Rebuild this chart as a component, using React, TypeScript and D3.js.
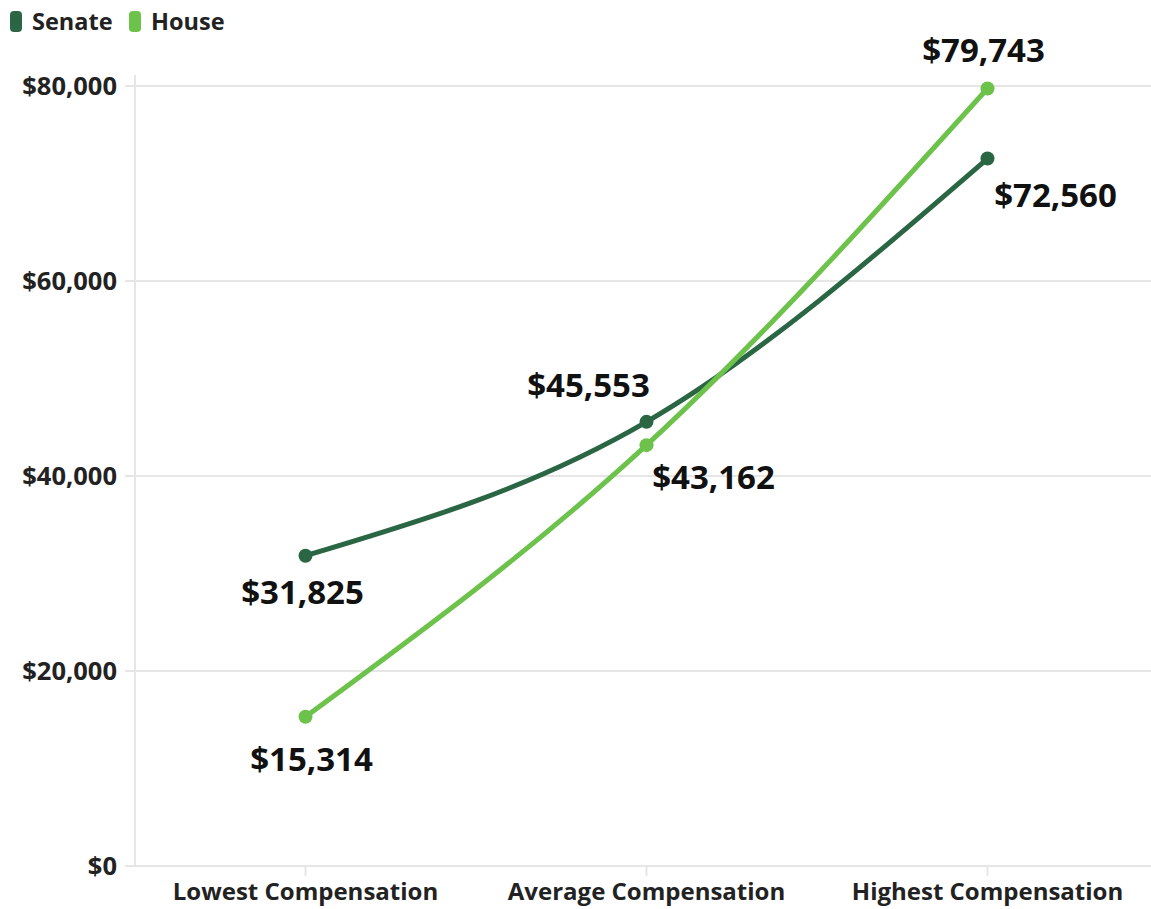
import React from "react";
import * as d3 from "d3";

const categories = ["Lowest Compensation", "Average Compensation", "Highest Compensation"];
const senateValues = [31825, 45553, 72560];
const houseValues = [15314, 43162, 79743];
const yTicks = [0, 20000, 40000, 60000, 80000];
const seriesNames = ["Senate", "House"];

const colors = { Senate: "#2b6644", House: "#6cc24a" };
// label offsets (dx, dy relative to point) per series per category
const labelOffsets: Record<string, [number, number][]> = {
  Senate: [[-3, 37], [-58, -36], [68, 37]],
  House: [[6, 43], [67, 32], [-4, -38]],
};

const W = 1151;
const H = 909;
const FONT = "'Open Sans', 'Noto Sans', sans-serif";

export default function App() {
  const x = d3.scalePoint<string>().domain(categories).range([135, 1158]).padding(0.5);
  const y = d3.scaleLinear().domain([0, 80000]).range([866, 86]);
  const fmt = (v: number) => "$" + d3.format(",")(v);
  const line = d3
    .line<[string, number]>()
    .x((d) => x(d[0])!)
    .y((d) => y(d[1]))
    .curve(d3.curveMonotoneX);
  const series = [
    { name: "Senate", values: senateValues },
    { name: "House", values: houseValues },
  ];
  return (
    <svg width={W} height={H} style={{ position: "absolute", left: 0, top: 0, fontFamily: FONT }}>
      <rect width={W} height={H} fill="#fff" />
      {/* legend */}
      {seriesNames.map((n, i) => {
        const lx = i === 0 ? 10 : 129;
        return (
          <g key={n}>
            <rect x={lx} y={11} width={12} height={21} rx={4} fill={(colors as any)[n]} />
            <text x={lx + 22} y={30} fontSize={23.5} fontWeight={700} fill="#222">
              {n}
            </text>
          </g>
        );
      })}
      {/* grid */}
      {yTicks.map((t) => (
        <g key={t}>
          <line x1={125} x2={W} y1={y(t)} y2={y(t)} stroke="#e6e6e6" strokeWidth={2} />
          <text x={117} y={y(t)} dy="0.35em" textAnchor="end" fontSize={25.5} fontWeight={700} fill="#222">
            {fmt(t)}
          </text>
        </g>
      ))}
      <line x1={135} x2={135} y1={75} y2={866} stroke="#e6e6e6" strokeWidth={2} />
      {categories.map((c) => (
        <g key={c}>
          <line x1={x(c)!} x2={x(c)!} y1={866} y2={876} stroke="#e6e6e6" strokeWidth={2} />
          <text x={x(c)!} y={900} textAnchor="middle" fontSize={24} fontWeight={700} fill="#222">
            {c}
          </text>
        </g>
      ))}
      {series.map((s) => {
        const pts = categories.map((c, i) => [c, s.values[i]] as [string, number]);
        const col = (colors as any)[s.name];
        return (
          <g key={s.name}>
            <path d={line(pts)!} fill="none" stroke={col} strokeWidth={5} />
            {pts.map((p) => (
              <circle key={p[0]} cx={x(p[0])!} cy={y(p[1])} r={7} fill={col} />
            ))}
          </g>
        );
      })}
      {series.map((s) =>
        categories.map((c, i) => {
          const [dx, dy] = labelOffsets[s.name][i];
          return (
            <text
              key={s.name + c}
              x={x(c)! + dx}
              y={y(s.values[i]) + dy}
              dy="0.35em"
              textAnchor="middle"
              fontSize={33}
              fontWeight={700}
              fill="#111"
            >
              {fmt(s.values[i])}
            </text>
          );
        })
      )}
    </svg>
  );
}
